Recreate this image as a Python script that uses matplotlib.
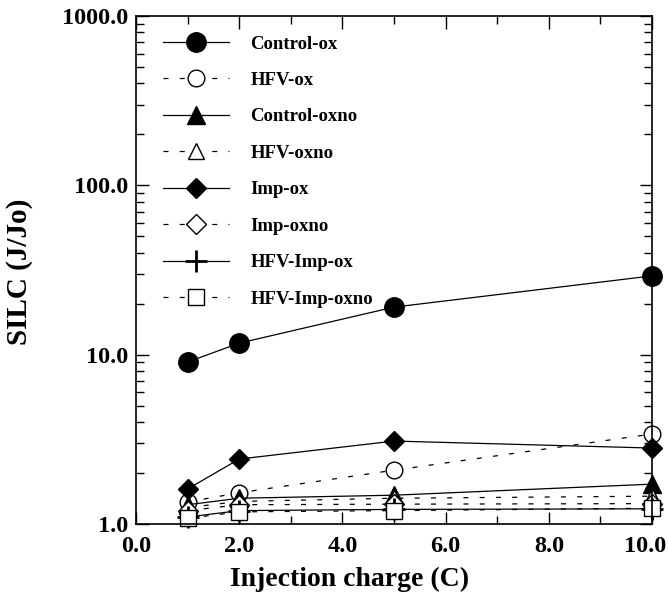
import numpy as np
import matplotlib as mpl
mpl.use("Agg")
import matplotlib.pyplot as plt
from matplotlib.ticker import FixedLocator, LogLocator, NullFormatter
from matplotlib.transforms import ScaledTranslation

plt.rcParams["font.family"] = ["Liberation Serif", "DejaVu Serif"]
plt.rcParams["font.weight"] = "bold"

charge = [1, 2, 5, 10]

control_ox = [9.05, 11.7, 19.1, 29.2]
hfv_ox = [1.35, 1.53, 2.08, 3.4]
control_oxno = [1.3, 1.42, 1.48, 1.72]
hfv_oxno = [1.25, 1.36, 1.42, 1.46]
imp_ox = [1.61, 2.42, 3.09, 2.81]
imp_oxno = [1.2, 1.3, 1.31, 1.32]
hfv_imp_ox = [1.1, 1.2, 1.22, 1.23]
hfv_imp_oxno = [1.08, 1.18, 1.2, 1.24]

labels = ["Control-ox", "HFV-ox", "Control-oxno", "HFV-oxno",
          "Imp-ox", "Imp-oxno", "HFV-Imp-ox", "HFV-Imp-oxno"]

dash = (0, (4, 9))
styles = [
    dict(marker="o", ms=14, mfc="black", ls="-"),
    dict(marker="o", ms=12, mfc="white", ls=dash),
    dict(marker="^", ms=13, mfc="black", ls="-"),
    dict(marker="^", ms=12, mfc="white", ls=dash),
    dict(marker="D", ms=10, mfc="black", ls="-"),
    dict(marker="D", ms=10, mfc="white", ls=dash),
    dict(marker="+", ms=16, mfc="black", ls="-", mew=2),
    dict(marker="s", ms=11, mfc="white", ls=dash),
]
series = [control_ox, hfv_ox, control_oxno, hfv_oxno,
          imp_ox, imp_oxno, hfv_imp_ox, hfv_imp_oxno]

fig = plt.figure(figsize=(6.68, 5.94), dpi=100)
ax = fig.add_axes([0.2036, 0.1178, 0.7725, 0.8552])

for vals, lab, st in zip(series, labels, styles):
    st = dict(st)
    ax.plot(charge, vals, color="black", lw=0.9, mec="black",
            mew=st.pop("mew", 1.0), label=lab, clip_on=False, **st)

ax.set_yscale("log")
ax.set_xlim(0, 10)
ax.set_ylim(1, 1000)
ax.set_xticks([0, 2, 4, 6, 8, 10])
ax.set_xticklabels([f"{v:.1f}" for v in [0, 2, 4, 6, 8, 10]])
ax.xaxis.set_minor_locator(FixedLocator([1, 3, 5, 7, 9]))
ax.set_yticks([1, 10, 100, 1000])
ax.set_yticklabels(["1.0", "10.0", "100.0", "1000.0"])
ax.yaxis.set_minor_locator(LogLocator(base=10, subs=np.arange(2, 10)))
ax.yaxis.set_minor_formatter(NullFormatter())

ax.tick_params(which="both", direction="in", top=True, right=True,
               labelsize=17.5, width=1)
ax.tick_params(which="major", length=9)
ax.tick_params(which="minor", length=6)
ax.tick_params(axis="x", pad=8.5)
ax.tick_params(axis="y", pad=5.5)
for s in ax.spines.values():
    s.set_linewidth(1.2)

# last x label sits a bit left so it stays inside the figure
last = ax.get_xticklabels()[-1]
last.set_transform(last.get_transform()
                   + ScaledTranslation(-0.07, 0, fig.dpi_scale_trans))

ax.set_xlabel("Injection charge (C)", fontsize=20, fontweight="bold")
ax.xaxis.set_label_coords(0.413, -0.085)
ax.set_ylabel("SILC (J/Jo)", fontsize=21, fontweight="bold")
ax.yaxis.set_label_coords(-0.2, 0.496)

ax.legend(loc="upper left", bbox_to_anchor=(0.02, 0.995), frameon=False,
          handlelength=3.5, labelspacing=1.03, handletextpad=1.15,
          prop={"weight": "bold", "size": 13.5})

fig.savefig("out.png", dpi=100)
